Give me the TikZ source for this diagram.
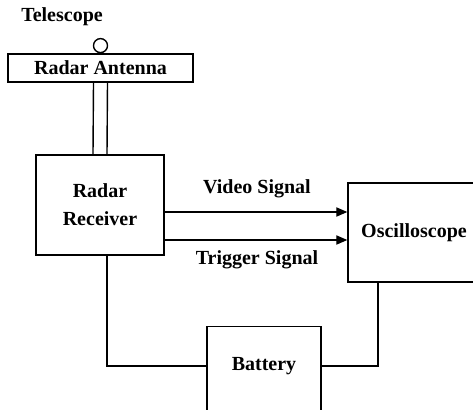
\documentclass[tikz,border=0pt]{standalone}
\usepackage{fontspec}
\setmainfont{Liberation Serif}
\usetikzlibrary{arrows.meta, positioning, shapes.geometric}

\begin{document}
\begin{tikzpicture}[x=0.5pt, y=-0.5pt, line width=0.7pt,
    every node/.style={font=\bfseries\fontsize{10}{14}\selectfont},
    box/.style={draw, rectangle, inner sep=0pt},
    sig/.style={-{Triangle[length=5.5pt,width=4.6pt]}},
    wire/.style={line join=miter}]
        \useasboundingbox (0,0) rectangle (473,409);
        \node (tel) at (62,17) {Telescope};
        \node[box, minimum width=92.5pt, minimum height=14pt] (ant) at (100.5,68) {Radar Antenna};
        \node[draw, circle, minimum size=7pt, inner sep=0pt, anchor=south] (lens) at (ant.north) {};
        \node[box, minimum width=64pt, minimum height=50pt, align=center] (rec) at (100,205) {Radar\\Receiver};
        \node[box, minimum width=66pt, minimum height=49.5pt] (osc) at (414,232.5) {Oscilloscope};
        \node[box, minimum width=57pt, minimum height=67pt, anchor=north] (bat) at (264,326) {};
        \node (battxt) at (264,366) {Battery};
        \node (vid) at (257,189) {Video Signal};
        \node (trig) at (257,260) {Trigger Signal};
        \draw ([xshift=-3.5pt]ant.south) -- ([xshift=-3.5pt]rec.north);
        \draw ([xshift=3.5pt]ant.south) -- ([xshift=3.5pt]rec.north);
        \draw[sig] (rec.east |- 0,212) -- (osc.west |- 0,212);
        \draw[sig] (rec.east |- 0,240) -- (osc.west |- 0,240);
        \draw[wire] ([xshift=3.5pt]rec.south) |- (bat.west |- battxt);
        \draw[wire] (bat.east |- battxt) -| (osc.south -| 378,0);
\end{tikzpicture}
\end{document}
